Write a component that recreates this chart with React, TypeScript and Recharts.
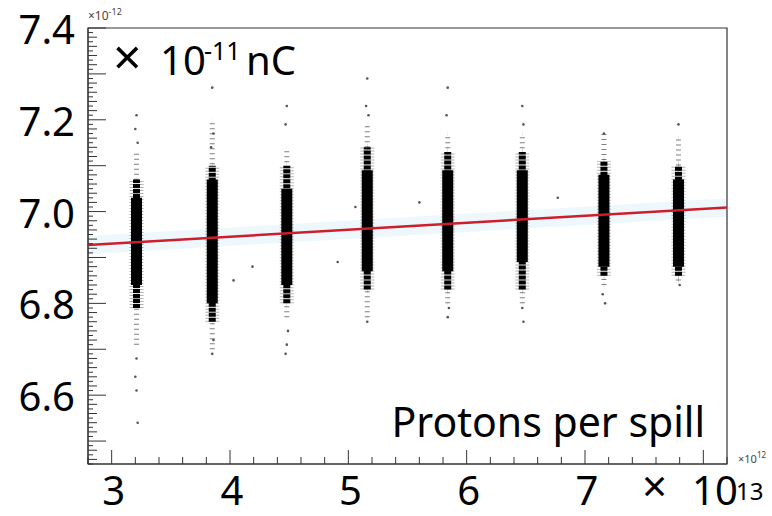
import { ComposedChart, Scatter, ErrorBar, Area, XAxis, YAxis, ReferenceArea } from 'recharts';

// cluster positions (x in 10^13 protons) and vertical extent of each cluster (y in 10^-11 nC)
const clusterX = [3.21, 3.85, 4.48, 5.16, 5.84, 6.47, 7.16, 7.79];
const sparseLo = [6.71, 6.70, 6.77, 6.77, 6.80, 6.80, 6.84, 6.85];
const sparseHi = [7.13, 7.20, 7.14, 7.19, 7.17, 7.17, 7.17, 7.16];
const denseLo = [6.79, 6.76, 6.80, 6.83, 6.83, 6.83, 6.86, 6.86];
const denseHi = [7.07, 7.10, 7.10, 7.14, 7.13, 7.13, 7.11, 7.10];
const coreLo = [6.84, 6.80, 6.84, 6.87, 6.87, 6.89, 6.88, 6.88];
const coreHi = [7.03, 7.07, 7.05, 7.09, 7.09, 7.09, 7.08, 7.07];

// isolated points
const strayX = [3.21, 3.20, 3.22, 3.21, 3.20, 3.21, 3.22, 3.85, 3.86, 3.84, 3.86, 3.85, 4.03, 4.19,
  4.48, 4.47, 4.49, 4.48, 4.47, 4.91, 5.06, 5.16, 5.15, 5.17, 5.16, 5.60, 5.84, 5.83, 5.85, 5.84,
  6.47, 6.48, 6.47, 6.48, 6.77, 7.16, 7.17, 7.15, 7.79, 7.80];
const strayY = [7.21, 7.18, 7.15, 6.68, 6.64, 6.61, 6.54, 7.27, 7.17, 7.14, 6.72, 6.69, 6.85, 6.88,
  7.23, 7.19, 6.74, 6.71, 6.69, 6.89, 7.01, 7.29, 7.23, 7.21, 6.76, 7.02, 7.27, 7.21, 6.79, 6.77,
  7.23, 7.19, 6.79, 6.76, 7.03, 7.17, 6.80, 6.82, 7.19, 6.84];

// linear fit
const fitX = [2.8, 8.2];
const fitY = [6.927, 7.009];
const fitBand = 0.02;

const yLabels = [7.4, 7.2, 7.0, 6.8, 6.6];
const xLabels = [3, 4, 5, 6, 7];

const FONT = '"Noto Sans", sans-serif';

const rangeRows = (lo: number[], hi: number[]) =>
  clusterX.map((x, i) => ({ x, y: (lo[i] + hi[i]) / 2, err: [(hi[i] - lo[i]) / 2, (hi[i] - lo[i]) / 2] }));

const sparseRows = rangeRows(sparseLo, sparseHi);
const denseRows = rangeRows(denseLo, denseHi);
const coreRows = rangeRows(coreLo, coreHi);
const strayRows = strayX.map((x, i) => ({ x, y: strayY[i] }));
const fitRows = fitX.map((x, i) => ({ x, y: fitY[i], band: [fitY[i] - fitBand, fitY[i] + fitBand] }));

const isMult = (v: number, step: number) => Math.abs(v / step - Math.round(v / step)) < 1e-6;

const yTicks: number[] = [];
for (let i = 0; i <= 95; i++) yTicks.push(Math.round((6.45 + i * 0.01) * 100) / 100);
const xTicks: number[] = [];
for (let i = 0; i <= 27; i++) xTicks.push(Math.round((2.8 + i * 0.2) * 10) / 10);

function YTick({ x, y, payload }: any) {
  const v = payload.value;
  const len = isMult(v, 0.1) ? 18 : isMult(v, 0.02) ? 9 : 5;
  const lab = yLabels.find((l) => Math.abs(l - v) < 1e-6);
  return (
    <g>
      <line x1={x} x2={x + len} y1={y} y2={y} stroke="#333" strokeWidth={1} />
      {lab !== undefined && (
        <text x={x - 13} y={y + 16} textAnchor="end" fontSize={40} fontFamily={FONT} fill="#000">
          {lab.toFixed(1)}
        </text>
      )}
    </g>
  );
}

function XTick({ x, y, payload }: any) {
  const v = payload.value;
  const len = isMult(v, 1) ? 14 : 7;
  const lab = xLabels.find((l) => Math.abs(l - v) < 1e-6);
  return (
    <g>
      <line x1={x} x2={x} y1={y} y2={y - len} stroke="#333" strokeWidth={1} />
      {lab !== undefined && (
        <text x={x + 2} y={y + 41} textAnchor="middle" fontSize={40} fontFamily={FONT} fill="#000">
          {lab}
        </text>
      )}
    </g>
  );
}

const noShape = () => <g />;

export default function App() {
  return (
    <div style={{ position: 'absolute', left: 0, top: 0, width: 772, height: 516, background: '#fff' }}>
      <ComposedChart width={772} height={516} data={fitRows} margin={{ top: 28, right: 45, left: 0, bottom: 0 }}>
        <XAxis
          type="number"
          dataKey="x"
          domain={[2.8, 8.2]}
          ticks={xTicks}
          interval={0}
          tick={<XTick />}
          tickLine={false}
          tickSize={0}
          tickMargin={0}
          height={52}
          axisLine={{ stroke: '#333' }}
        />
        <YAxis
          type="number"
          domain={[6.45, 7.4]}
          ticks={yTicks}
          interval={0}
          tick={<YTick />}
          tickLine={false}
          tickSize={0}
          tickMargin={0}
          width={88}
          axisLine={{ stroke: '#333' }}
        />
        <Area
          type="linear"
          dataKey="band"
          stroke="none"
          fill="#eef8fc"
          fillOpacity={1}
          isAnimationActive={false}
        />
        {/* sparse speckle and fuzzy edge around each cluster */}
        <Scatter data={sparseRows} dataKey="y" shape={noShape} isAnimationActive={false}>
          <ErrorBar dataKey="err" direction="y" width={0} stroke="#000" strokeOpacity={0.5} strokeWidth={5} strokeDasharray="1 4" isAnimationActive={false} />
        </Scatter>
        <Scatter data={denseRows} dataKey="y" shape={noShape} isAnimationActive={false}>
          <ErrorBar dataKey="err" direction="y" width={0} stroke="#000" strokeOpacity={0.3} strokeWidth={14} strokeDasharray="1 2" isAnimationActive={false} />
        </Scatter>
        <Scatter data={denseRows} dataKey="y" shape={noShape} isAnimationActive={false}>
          <ErrorBar dataKey="err" direction="y" width={0} stroke="#000" strokeWidth={7} strokeDasharray="4 1" isAnimationActive={false} />
        </Scatter>
        <Scatter data={coreRows} dataKey="y" shape={noShape} isAnimationActive={false}>
          <ErrorBar dataKey="err" direction="y" width={0} stroke="#000" strokeWidth={11} isAnimationActive={false} />
        </Scatter>
        <Scatter data={strayRows} dataKey="y" fill="#555" shape={(p: any) => <circle cx={p.cx} cy={p.cy} r={1.3} fill="#555" />} isAnimationActive={false} />
        <Scatter
          data={fitRows}
          dataKey="y"
          shape={noShape}
          line={{ stroke: '#cc1f2e', strokeWidth: 2.5 }}
          isAnimationActive={false}
        />
        <ReferenceArea x1={2.8} x2={8.2} y1={6.45} y2={7.4} fill="none" stroke="#333" strokeWidth={1.2} />
      </ComposedChart>
      <svg width={772} height={516} style={{ position: 'absolute', left: 0, top: 0, pointerEvents: 'none' }}>
        <text x={88} y={20} fontSize={12} fontFamily={FONT} fill="#444">
          ×10<tspan dy={-5} fontSize={9}>-12</tspan>
        </text>
        <text x={738} y={463} fontSize={11} fontFamily={FONT} fill="#444">
          ×10<tspan dy={-5} fontSize={8}>12</tspan>
        </text>
        <text x={113} y={75} fontSize={50} fontFamily={FONT} fill="#000">×</text>
        <text x={160} y={75} fontSize={40} fontFamily={FONT} fill="#000">10</text>
        <text x={204} y={60} fontSize={25} fontFamily={FONT} fill="#000">-11</text>
        <text x={246} y={75} fontSize={40} fontFamily={FONT} fill="#000">nC</text>
        <text x={705} y={437} textAnchor="end" fontSize={41} fontFamily={FONT} fill="#000">
          Protons per spill
        </text>
        <text x={642} y={502} fontSize={44} fontFamily={FONT} fill="#000">×</text>
        <text x={692} y={505} fontSize={40} fontFamily={FONT} fill="#000">10</text>
        <text x={736} y={500} fontSize={24} fontFamily={FONT} fill="#000">13</text>
      </svg>
    </div>
  );
}
